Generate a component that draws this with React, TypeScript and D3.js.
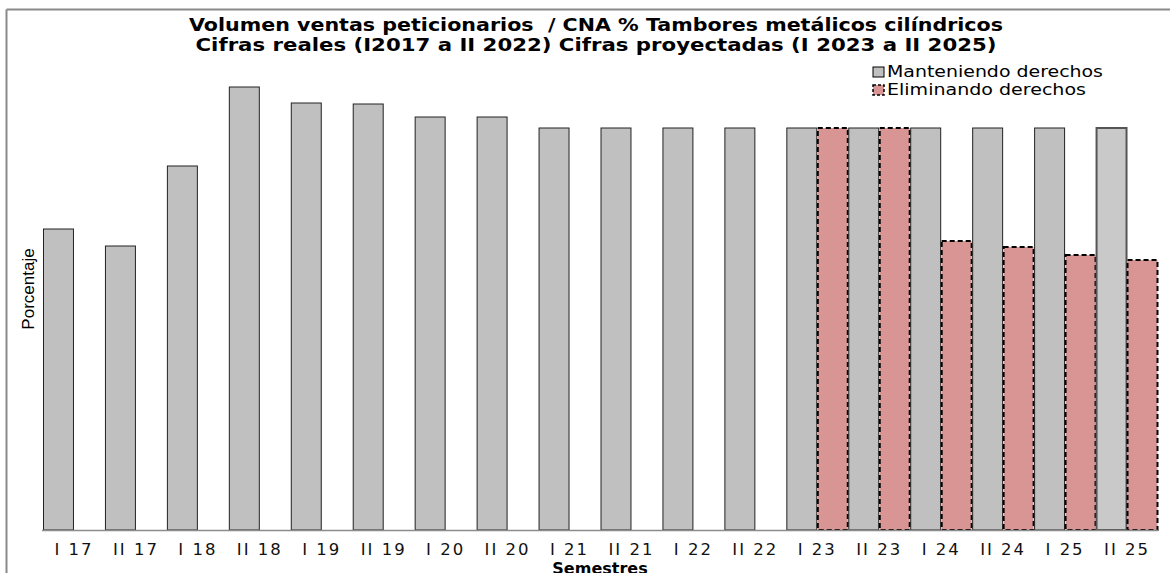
import React from "react";
import * as d3 from "d3";

const categories = ["I 17","II 17","I 18","II 18","I 19","II 19","I 20","II 20","I 21","II 21","I 22","II 22","I 23","II 23","I 24","II 24","I 25","II 25"];
const manteniendo = [30.1, 28.4, 36.4, 44.3, 42.7, 42.6, 41.3, 41.3, 40.2, 40.2, 40.2, 40.2, 40.2, 40.2, 40.2, 40.2, 40.2, 40.2];
const eliminando = [0, 0, 0, 0, 0, 0, 0, 0, 0, 0, 0, 0, 40.2, 40.2, 28.9, 28.3, 27.5, 27.0];
const seriesNames = ["Manteniendo derechos", "Eliminando derechos"];
const titleLines = [
  "Volumen ventas peticionarios  / CNA % Tambores metálicos cilíndricos",
  "Cifras reales (I2017 a II 2022) Cifras proyectadas (I 2023 a II 2025)",
];
const titleWidths = [814, 801];
const legendWidths = [216, 199];

const W = 1170, H = 573;
const x0 = d3.scaleBand<string>().domain(categories).range([43, 1158]).paddingInner(0).paddingOuter(0);
const x1 = d3.scaleBand<string>().domain(seriesNames).range([0, x0.bandwidth()]).padding(0);
const y = d3.scaleLinear().domain([0, 45]).range([530, 80]);

export default function App() {
  const font = "'DejaVu Sans', Verdana, sans-serif";
  return (
    <svg width={W} height={H} style={{ position: "absolute", left: 0, top: 0, background: "#fff" }}>
      <rect x={0} y={0} width={W} height={H} fill="#fff" />
      {/* outer frame */}
      <line x1={6.5} y1={9.5} x2={W} y2={9.5} stroke="#8a8a8a" strokeWidth={2} />
      <line x1={6.5} y1={9.5} x2={6.5} y2={H} stroke="#8a8a8a" strokeWidth={2} />
      {/* title */}
      {titleLines.map((t, i) => (
        <text key={i} x={596} y={31 + i * 19.5} textAnchor="middle" fontFamily={font} fontWeight="bold" fontSize={17}
          fill="#000" textLength={titleWidths[i]} lengthAdjust="spacingAndGlyphs" style={{ whiteSpace: "pre" }}>
          {t}
        </text>
      ))}
      {/* bars */}
      {categories.map((c, i) => {
        const xg = (x0(c) as number) + (x1(seriesNames[0]) as number);
        const xr = (x0(c) as number) + (x1(seriesNames[1]) as number);
        const bw = x1.bandwidth();
        const last = i === categories.length - 1;
        return (
          <g key={c}>
            <rect x={xg + 0.5} y={y(manteniendo[i])} width={bw - 1} height={y(0) - y(manteniendo[i])}
              fill={last ? "#c9c9c9" : "#c0c0c0"} stroke={last ? "#555" : "#222"} strokeWidth={last ? 2 : 1} />
            {eliminando[i] > 0 && (
              <rect x={xr + 0.5} y={y(eliminando[i])} width={bw - 1} height={y(0) - y(eliminando[i])}
                fill="#d99594" stroke="#000" strokeWidth={2} strokeDasharray="5,3" />
            )}
          </g>
        );
      })}
      {/* axis */}
      <line x1={42} y1={y(0) + 0.5} x2={1158} y2={y(0) + 0.5} stroke="#8c8c8c" strokeWidth={1.5} />
      {categories.map((c) => (
        <text key={c} x={(x0(c) as number) + x0.bandwidth() / 2} y={555} textAnchor="middle"
          fontFamily={font} fontSize={16.5} letterSpacing={2} fill="#111">
          {c}
        </text>
      ))}
      <text x={600} y={574} textAnchor="middle" fontFamily={font} fontWeight="bold" fontSize={16} fill="#000">Semestres</text>
      <text transform="translate(34,289) rotate(-90)" textAnchor="middle" fontFamily="'Liberation Sans', Arial, sans-serif" fontSize={17} fill="#000">Porcentaje</text>
      {/* legend */}
      {seriesNames.map((s, i) => (
        <g key={s} transform={`translate(873,${67 + i * 18})`}>
          <rect x={0} y={0} width={11} height={10} fill={i === 0 ? "#c0c0c0" : "#d99594"} stroke="#000"
            strokeWidth={i === 0 ? 1 : 1.5} strokeDasharray={i === 0 ? undefined : "3,2"} />
          <text x={14} y={10} fontFamily={font} fontSize={15} fill="#000" textLength={legendWidths[i]} lengthAdjust="spacingAndGlyphs">{s}</text>
        </g>
      ))}
    </svg>
  );
}
